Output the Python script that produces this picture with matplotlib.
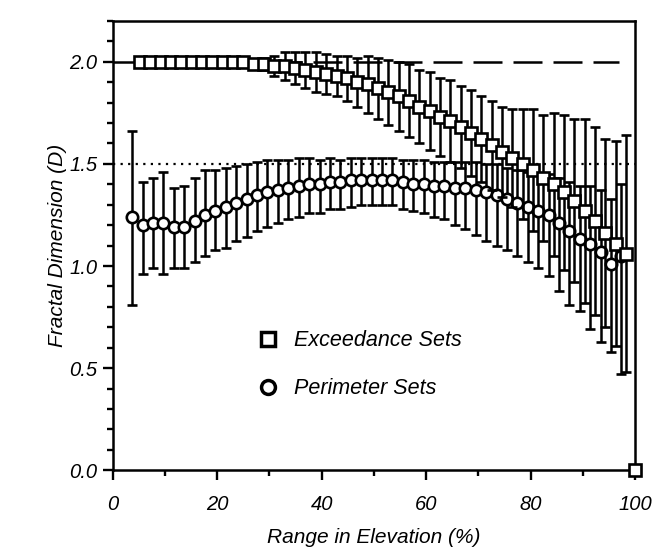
import matplotlib
matplotlib.use("Agg")
import matplotlib.pyplot as plt
from matplotlib.lines import Line2D
import numpy as np

plt.rcParams["font.family"] = "Liberation Sans"
plt.rcParams["font.style"] = "italic"

# ---------------------------------------------
# DATA
# ---------------------------------------------
# exceedance sets (squares)
sq_d = [2.00, 2.00, 2.00, 2.00, 2.00, 2.00, 2.00, 2.00, 2.00, 2.00,
        2.00, 1.99, 1.99, 1.98, 1.98, 1.97, 1.96, 1.95, 1.94, 1.93,
        1.92, 1.90, 1.89, 1.87, 1.85, 1.83, 1.81, 1.78, 1.76, 1.73,
        1.71, 1.68, 1.65, 1.62, 1.59, 1.56, 1.53, 1.50, 1.47, 1.43,
        1.40, 1.36, 1.32, 1.27, 1.22, 1.16, 1.11, 1.06]
sq_err = [0.00, 0.00, 0.00, 0.00, 0.00, 0.00, 0.00, 0.00, 0.00, 0.00,
          0.00, 0.02, 0.03, 0.05, 0.07, 0.08, 0.09, 0.10, 0.10, 0.10,
          0.11, 0.12, 0.14, 0.15, 0.16, 0.17, 0.18, 0.18, 0.19, 0.19,
          0.20, 0.20, 0.21, 0.21, 0.22, 0.22, 0.24, 0.27, 0.30, 0.31,
          0.35, 0.38, 0.40, 0.45, 0.46, 0.46, 0.50, 0.58]
sq_x = np.linspace(5.2, 98.3, len(sq_d))

# last exceedance point at 100 %
end_x = 100
end_d = 0.0

# perimeter sets (circles)
ci_d = [1.24, 1.20, 1.21, 1.21, 1.19, 1.19, 1.22, 1.25, 1.27, 1.29,
        1.31, 1.33, 1.35, 1.36, 1.37, 1.38, 1.39, 1.40, 1.40, 1.41,
        1.41, 1.42, 1.42, 1.42, 1.42, 1.42, 1.41, 1.40, 1.40, 1.39,
        1.39, 1.38, 1.38, 1.37, 1.36, 1.35, 1.33, 1.31, 1.29, 1.27,
        1.25, 1.21, 1.17, 1.13, 1.11, 1.07, 1.01, 1.05]
ci_lo = [0.43, 0.24, 0.22, 0.25, 0.20, 0.20, 0.20, 0.20, 0.19, 0.20,
         0.19, 0.19, 0.18, 0.17, 0.16, 0.15, 0.15, 0.14, 0.14, 0.13,
         0.13, 0.13, 0.12, 0.12, 0.12, 0.12, 0.13, 0.13, 0.14, 0.15,
         0.16, 0.18, 0.20, 0.22, 0.24, 0.25, 0.25, 0.26, 0.27, 0.28,
         0.30, 0.33, 0.36, 0.35, 0.42, 0.44, 0.43, 0.58]
ci_hi = [0.42, 0.21, 0.22, 0.25, 0.19, 0.20, 0.21, 0.22, 0.20, 0.19,
         0.18, 0.17, 0.16, 0.16, 0.15, 0.14, 0.14, 0.13, 0.12, 0.12,
         0.11, 0.11, 0.11, 0.11, 0.11, 0.11, 0.11, 0.12, 0.12, 0.12,
         0.12, 0.13, 0.13, 0.14, 0.14, 0.15, 0.15, 0.16, 0.17, 0.18,
         0.20, 0.22, 0.24, 0.26, 0.28, 0.30, 0.32, 0.35]
ci_x = np.linspace(3.7, 97.4, len(ci_d))

x_ticks = [0, 20, 40, 60, 80, 100]
y_ticks = [0.0, 0.5, 1.0, 1.5, 2.0]

# ---------------------------------------------
# FIGURE
# ---------------------------------------------
fig = plt.figure(figsize=(6.52, 5.5), dpi=100)
ax = fig.add_axes([0.173, 0.145, 0.801, 0.817])

# reference lines
ax.plot([0, 97], [2.0, 2.0], color="black", lw=1.8,
        linestyle=(0, (11.6, 4.4)), zorder=1)
ax.plot([0, 100], [1.5, 1.5], color="black", lw=1.6,
        linestyle=(0, (1, 2.4)), zorder=1)

eb_style = dict(mfc="white", mec="black", ms=8.2, mew=1.9, ecolor="black",
                elinewidth=1.8, capsize=3.8, capthick=2.4, linestyle="none")

ax.errorbar(ci_x, ci_d, yerr=[ci_lo, ci_hi], fmt="o", zorder=3, **eb_style)
ax.errorbar(sq_x, sq_d, yerr=sq_err, fmt="s", zorder=4, **eb_style)
ax.plot([end_x], [end_d], marker="s", mfc="white", mec="black", ms=8.2,
        mew=1.9, linestyle="none", clip_on=False, zorder=5)

# axes
ax.set_xlim(0, 100)
ax.set_ylim(0, 2.2)
ax.set_xticks(x_ticks)
ax.set_xticklabels([str(v) for v in x_ticks])
ax.set_xticks(np.arange(10, 100, 20), minor=True)
ax.set_yticks(y_ticks)
ax.set_yticklabels([f"{v:.1f}" for v in y_ticks])
ax.set_yticks(np.arange(0.1, 2.25, 0.1), minor=True)

ax.tick_params(axis="both", which="major", direction="out", length=7,
               width=1.7, labelsize=14.5, color="black")
ax.tick_params(axis="both", which="minor", direction="out", length=4,
               width=1.7)
ax.tick_params(axis="x", which="major", pad=11)
ax.tick_params(axis="y", which="major", pad=4)
for s in ax.spines.values():
    s.set_linewidth(1.8)

ax.set_xlabel("Range in Elevation (%)", fontsize=15, labelpad=10)
ax.set_ylabel("Fractal Dimension (D)", fontsize=15, labelpad=2)

# legend
handles = [
    Line2D([], [], marker="s", mfc="white", mec="black", ms=10, mew=2.5,
           linestyle="none"),
    Line2D([], [], marker="o", mfc="white", mec="black", ms=10, mew=2.5,
           linestyle="none"),
]
ax.legend(handles, ["Exceedance Sets", "Perimeter Sets"], loc="center left",
          bbox_to_anchor=(0.24, 0.235), frameon=False, fontsize=15.5,
          handletextpad=0.7, labelspacing=1.25, handlelength=1.0)

plt.savefig("out.png", dpi=100)
plt.close()
